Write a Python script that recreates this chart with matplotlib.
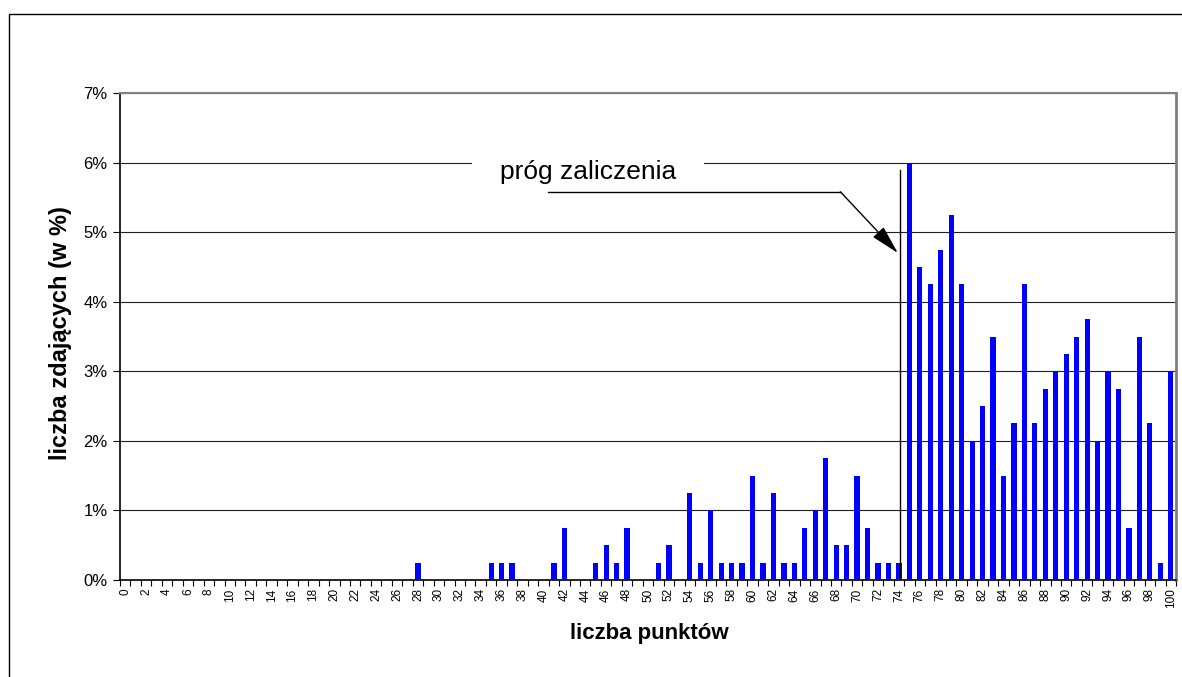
import matplotlib
matplotlib.use("Agg")
import matplotlib.pyplot as plt
from matplotlib.patches import Rectangle

plt.rcParams['font.family'] = ['Liberation Sans', 'DejaVu Sans']

points = list(range(0, 101))
values = [0.0] * 101
nonzero = {
    28: 0.25, 35: 0.25, 36: 0.25, 37: 0.25, 41: 0.25, 42: 0.75,
    45: 0.25, 46: 0.5, 47: 0.25, 48: 0.75, 51: 0.25, 52: 0.5,
    54: 1.25, 55: 0.25, 56: 1.0, 57: 0.25, 58: 0.25, 59: 0.25,
    60: 1.5, 61: 0.25, 62: 1.25, 63: 0.25, 64: 0.25, 65: 0.75,
    66: 1.0, 67: 1.75, 68: 0.5, 69: 0.5, 70: 1.5, 71: 0.75,
    72: 0.25, 73: 0.25, 74: 0.25, 75: 6.0, 76: 4.5, 77: 4.25,
    78: 4.75, 79: 5.25, 80: 4.25, 81: 2.0, 82: 2.5, 83: 3.5,
    84: 1.5, 85: 2.25, 86: 4.25, 87: 2.25, 88: 2.75, 89: 3.0,
    90: 3.25, 91: 3.5, 92: 3.75, 93: 2.0, 94: 3.0, 95: 2.75,
    96: 0.75, 97: 3.5, 98: 2.25, 99: 0.25, 100: 3.0,
}
for k, v in nonzero.items():
    values[k] = v

y_ticks = [0, 1, 2, 3, 4, 5, 6, 7]
y_tick_labels = [f"{t}%" for t in y_ticks]
x_tick_labels = [str(p) for p in points if p % 2 == 0]
threshold_label = "próg zaliczenia"

fig = plt.figure(figsize=(11.82, 6.77), dpi=100)
fig.patches.append(Rectangle((9 / 1182, -0.1), 1.2, (677 - 14) / 677 + 0.1,
                             transform=fig.transFigure, fill=False,
                             edgecolor='black', linewidth=1.0, zorder=0))
ax = fig.add_axes([120 / 1182, (677 - 580) / 677, (1176 - 120) / 1182, (580 - 93) / 677])

ax.bar(points, values, width=0.5, color='#0000FF', zorder=3)
ax.set_xlim(-0.5, 100.5)
ax.set_ylim(0, 7)

ax.set_yticks(y_ticks)
ax.set_yticklabels(y_tick_labels, fontsize=12)
ax.yaxis.grid(True, color='#202020', linewidth=0.8, zorder=1)
ax.set_axisbelow(True)

ax.set_xticks([p for p in points if p % 2 == 0])
ax.set_xticklabels(x_tick_labels, rotation=90, fontsize=8.5)
ax.set_xticks([p - 0.5 for p in points] + [100.5], minor=True)
ax.tick_params(axis='x', which='major', length=0, pad=6)
ax.tick_params(axis='x', which='minor', length=4, width=0.8, direction='out')
ax.tick_params(axis='y', length=5, width=0.8, direction='out', pad=4)

for s in ['left', 'bottom']:
    ax.spines[s].set_color('black')
    ax.spines[s].set_linewidth(1.2)
ax.spines['top'].set_color('#808080')
ax.spines['top'].set_linewidth(1.5)
ax.spines['right'].set_color('#808080')
ax.spines['right'].set_linewidth(2.0)

ax.set_xlabel("liczba punktów", fontsize=16, fontweight='bold', va='center')
ax.xaxis.set_label_coords((649 - 120) / 1056, (580 - 634) / 487)
ax.set_ylabel("liczba zdających (w %)", fontsize=17, fontweight='bold', va='center')
ax.yaxis.set_label_coords((61 - 120) / 1056, (580 - 333) / 487)

# threshold line
ax.plot([74.1, 74.1], [0, 5.9], color='black', linewidth=1.0, zorder=4)
# label with white background
ax.text(35.85, 5.86, threshold_label, fontsize=19, ha='left', va='center',
        zorder=5, bbox=dict(facecolor='white', edgecolor='none', pad=20))
# arrow
ax.plot([40.4, 68.4], [5.58, 5.58], color='black', linewidth=1.0, zorder=6)
ax.annotate("", xy=(73.9, 4.70), xytext=(68.4, 5.58),
            arrowprops=dict(arrowstyle='-|>,head_length=1.2,head_width=0.3',
                            color='black', lw=1.0,
                            mutation_scale=15, shrinkA=0, shrinkB=0),
            zorder=6)

fig.savefig("out.png", dpi=100)
